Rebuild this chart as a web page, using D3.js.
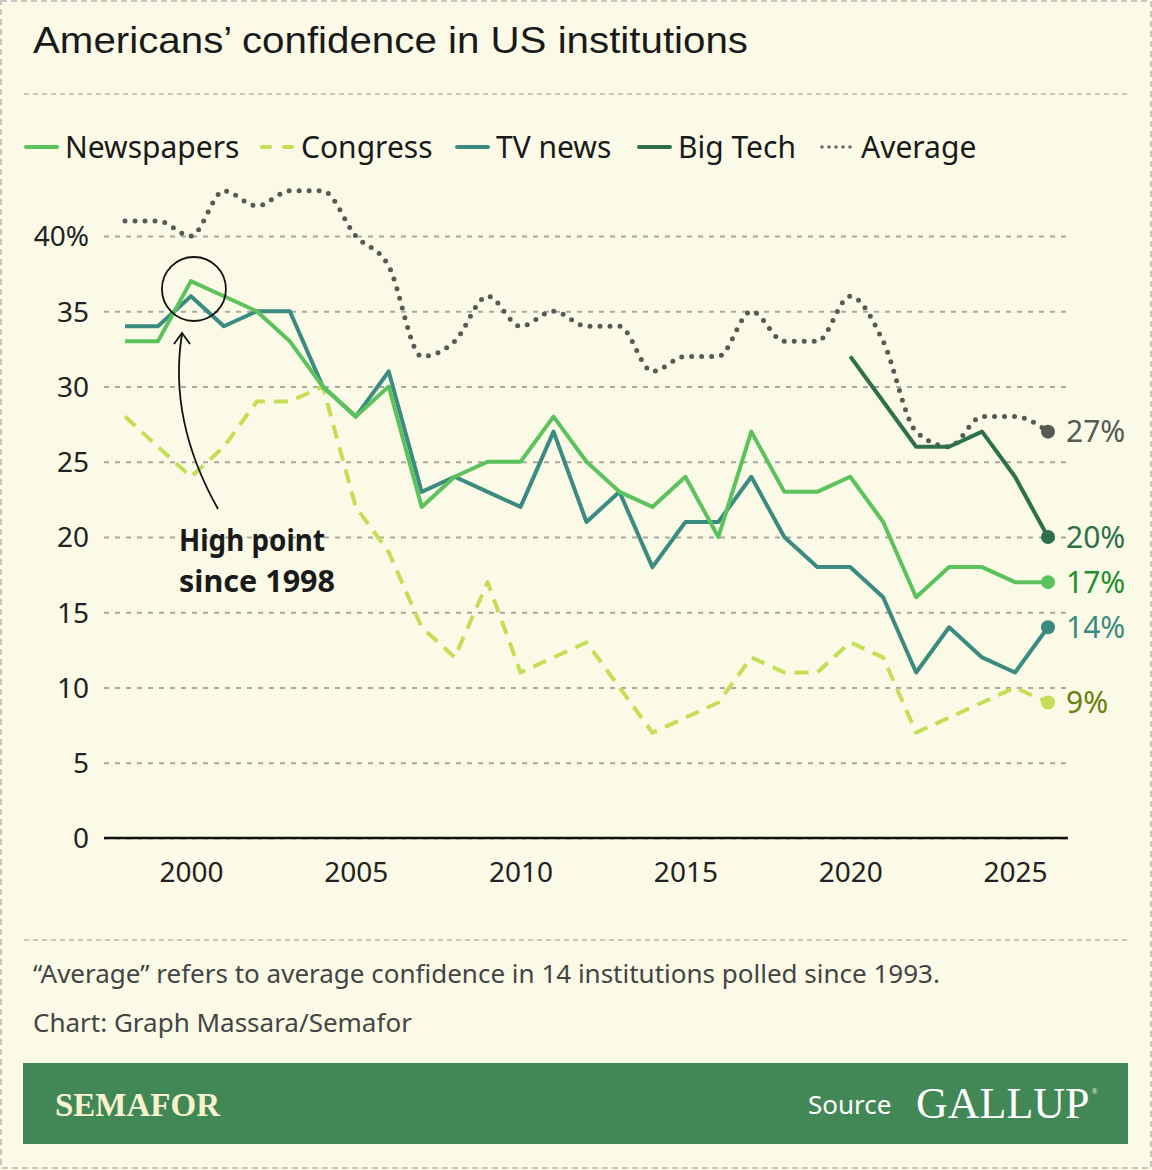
<!DOCTYPE html>
<html>
<head>
<meta charset="utf-8">
<script src="https://cdn.jsdelivr.net/npm/d3@7"></script>
<style>
  body { margin: 0; background: #fafae6; }
  svg { display: block; }
  text { font-family: "Noto Sans", "Open Sans", sans-serif; }
</style>
</head>
<body>
<script>
  const years = d3.range(1998, 2027)
  const newspapers = [33, 33, 37, 36, 35, 33, 30, 28, 30, 22, 24, 25, 25, 28, 25, 23, 22, 24, 20, 27, 23, 23, 24, 21, 16, 18, 18, 17, 17]
  const congress = [28, 26, 24, 26, 29, 29, 30, 22, 19, 14, 12, 17, 11, 12, 13, 10, 7, 8, 9, 12, 11, 11, 13, 12, 7, 8, 9, 10, 9]
  const tvNews = [34, 34, 36, 34, 35, 35, 30, 28, 31, 23, 24, 23, 22, 27, 21, 23, 18, 21, 21, 24, 20, 18, 18, 16, 11, 14, 12, 11, 14]
  const bigTechYears = [2020, 2021, 2022, 2023, 2024, 2025, 2026]
  const bigTech = [32, 29, 26, 26, 27, 24, 20]
  const average = [41, 41, 40, 43, 42, 43, 43, 40, 38, 32, 33, 36, 34, 35, 34, 34, 31, 32, 32, 35, 33, 33, 36, 33, 27, 26, 28, 28, 27]

  const yTicks = [0, 5, 10, 15, 20, 25, 30, 35, 40]
  const xTicks = [2000, 2005, 2010, 2015, 2020, 2025]
  const legendLabels = ['Newspapers', 'Congress', 'TV news', 'Big Tech', 'Average']

  const W = 1152, H = 1170
  const svg = d3.select('body').append('svg').attr('width', W).attr('height', H)

  // frame
  svg.append('rect').attr('x', 1).attr('y', 1).attr('width', W - 2).attr('height', H - 3)
    .attr('fill', '#fafae6').attr('stroke', '#c8c8c0').attr('stroke-width', 2).attr('stroke-dasharray', '6 4')

  svg.append('text').attr('x', 33).attr('y', 53).attr('textLength', 715).attr('lengthAdjust', 'spacingAndGlyphs')
    .style('font-family', '"Liberation Sans", Arial, sans-serif').style('font-size', '37px').attr('fill', '#1a1a1a')
    .text('Americans’ confidence in US institutions')

  const rule = y => svg.append('line').attr('x1', 24).attr('x2', 1128).attr('y1', y).attr('y2', y)
    .attr('stroke', '#c9c9c0').attr('stroke-width', 2).attr('stroke-dasharray', '5 4')
  rule(94)
  rule(940)

  const x = d3.scaleLinear().domain([1998, 2026]).range([125, 1048])
  const y = d3.scaleLinear().domain([0, 40]).range([838, 236])

  const gy = svg.append('g').attr('transform', 'translate(104,0)')
    .call(d3.axisLeft(y).tickValues(yTicks).tickSize(-964).tickPadding(15)
      .tickFormat(d => d === 40 ? '40%' : d))
  gy.select('.domain').remove()
  gy.selectAll('line').attr('stroke', '#a9a9a0').attr('stroke-width', 2).attr('stroke-dasharray', '5 6')
  gy.selectAll('text').style('font-size', '28px').attr('fill', '#222').attr('dy', '0.35em')

  svg.append('line').attr('x1', 104).attr('x2', 1068).attr('y1', y(0)).attr('y2', y(0))
    .attr('stroke', '#111').attr('stroke-width', 2.5)

  const gx = svg.append('g').attr('transform', 'translate(0,' + y(0) + ')')
    .call(d3.axisBottom(x).tickValues(xTicks).tickSize(0).tickPadding(24).tickFormat(d3.format('d')))
  gx.select('.domain').remove()
  gx.selectAll('text').style('font-size', '28px').attr('fill', '#222')

  const series = [
    { name: 'Average', yrs: years, vals: average, color: '#555a55', dash: '0 10', width: 5, curve: d3.curveMonotoneX, label: '#555a55' },
    { name: 'Congress', yrs: years, vals: congress, color: '#c6dd55', dash: '14 9', width: 4, curve: d3.curveLinear, label: '#6a800c' },
    { name: 'Big Tech', yrs: bigTechYears, vals: bigTech, color: '#2e7049', dash: null, width: 4, curve: d3.curveLinear, label: '#2e7049' },
    { name: 'TV news', yrs: years, vals: tvNews, color: '#3b8b80', dash: null, width: 4, curve: d3.curveLinear, label: '#3b8b80' },
    { name: 'Newspapers', yrs: years, vals: newspapers, color: '#5cc35c', dash: null, width: 4, curve: d3.curveLinear, label: '#1f8f2e' }
  ]

  series.forEach(s => {
    const pts = s.yrs.map((yr, i) => [yr, s.vals[i]])
    const line = d3.line().x(d => x(d[0])).y(d => y(d[1])).curve(s.curve)
    const p = svg.append('path').attr('d', line(pts)).attr('fill', 'none')
      .attr('stroke', s.color).attr('stroke-width', s.width)
      .attr('stroke-linejoin', 'round').attr('stroke-linecap', s.dash && s.dash.startsWith('0') ? 'round' : 'butt')
    if (s.dash) p.attr('stroke-dasharray', s.dash)
    const last = pts[pts.length - 1]
    svg.append('circle').attr('cx', x(last[0])).attr('cy', y(last[1])).attr('r', 7).attr('fill', s.color)
    svg.append('text').attr('x', x(last[0]) + 18).attr('y', y(last[1])).attr('dy', '0.35em')
      .style('font-size', '30px').attr('fill', s.label).text(last[1] + '%')
  })

  // legend
  const legendX = [24, 260, 455, 637, 820]
  const legendColors = ['#5cc35c', '#c6dd55', '#3b8b80', '#2e7049', '#666']
  const lg = svg.append('g').attr('transform', 'translate(0,147)')
  legendLabels.forEach((name, i) => {
    const sw = lg.append('line').attr('x1', legendX[i] + 2).attr('x2', legendX[i] + 33).attr('y1', 0).attr('y2', 0)
      .attr('stroke', legendColors[i]).attr('stroke-width', 4).attr('stroke-linecap', 'round')
    if (name === 'Congress') sw.attr('stroke-dasharray', '8 14')
    if (name === 'Average') sw.attr('stroke-dasharray', '0 7').attr('stroke-width', 3.5)
    lg.append('text').attr('x', legendX[i] + 41).attr('y', 0).attr('dy', '0.36em')
      .style('font-size', '30px').attr('fill', '#1a1a1a').text(name)
  })

  // annotation
  svg.append('circle').attr('cx', x(2000) + 3).attr('cy', 289).attr('r', 32)
    .attr('fill', 'none').attr('stroke', '#111').attr('stroke-width', 1.8)
  svg.append('path').attr('d', 'M218,509 Q168,420 182,334').attr('fill', 'none').attr('stroke', '#111').attr('stroke-width', 1.8)
  svg.append('path').attr('d', 'M174,344 L182,333 L190,344').attr('fill', 'none').attr('stroke', '#111').attr('stroke-width', 1.8)
  const ann = svg.append('text').style('font-size', '31px').style('font-weight', 'bold').attr('fill', '#1a1a1a')
  ann.append('tspan').attr('x', 179).attr('y', 551).attr('textLength', 146).attr('lengthAdjust', 'spacingAndGlyphs').text('High point')
  ann.append('tspan').attr('x', 179).attr('y', 592).attr('textLength', 156).attr('lengthAdjust', 'spacingAndGlyphs').text('since 1998')

  // footer notes
  svg.append('text').attr('x', 33).attr('y', 983).style('font-size', '26px').attr('fill', '#444')
    .text('“Average” refers to average confidence in 14 institutions polled since 1993.')
  svg.append('text').attr('x', 33).attr('y', 1032).style('font-size', '26px').attr('fill', '#444')
    .text('Chart: Graph Massara/Semafor')

  svg.append('rect').attr('x', 23).attr('y', 1063).attr('width', 1105).attr('height', 81).attr('fill', '#428856')
  svg.append('text').attr('x', 55).attr('y', 1116).attr('textLength', 165).attr('lengthAdjust', 'spacingAndGlyphs')
    .style('font-family', '"Liberation Serif", serif')
    .style('font-size', '34px').style('font-weight', 'bold').attr('fill', '#f6f2cf').text('SEMAFOR')
  svg.append('text').attr('x', 808).attr('y', 1114).style('font-size', '26px').attr('fill', '#fff').text('Source')
  const gallup = svg.append('text').attr('x', 916).attr('y', 1118)
    .style('font-family', '"Liberation Serif", serif').style('font-size', '44px').attr('fill', '#fff')
  gallup.append('tspan').text('GALLUP')
  gallup.append('tspan').attr('dx', 2).attr('dy', -24).style('font-size', '8px').text('®')
</script>
</body>
</html>
